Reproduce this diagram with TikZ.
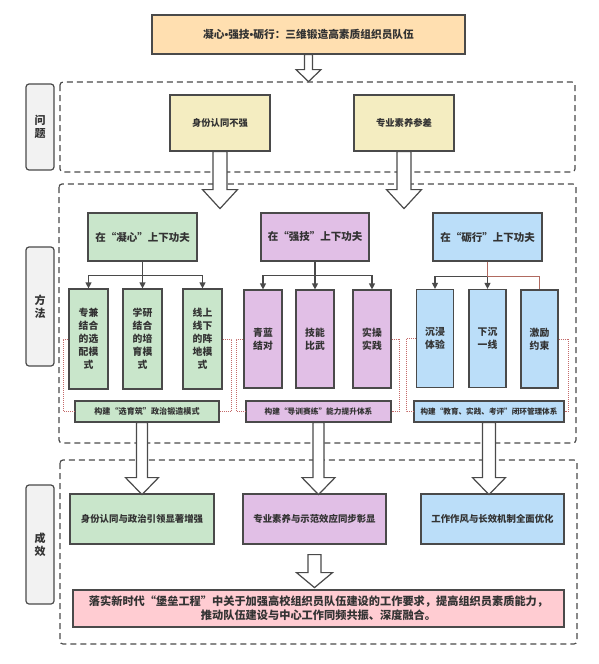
\documentclass[tikz,border=0pt]{standalone}
\usepackage{fontspec}
\setmainfont{Noto Sans CJK SC}
\newfontfamily\latinfont{Liberation Sans}
\usetikzlibrary{arrows.meta,calc}
\definecolor{bd}{HTML}{4A4A4A}
\definecolor{txt}{HTML}{333333}
\definecolor{cTop}{HTML}{FFDFB0}
\definecolor{cProb}{HTML}{F4EDC1}
\definecolor{cG}{HTML}{C9E6CB}
\definecolor{cP}{HTML}{E1BFE6}
\definecolor{cB}{HTML}{BBDEF9}
\definecolor{cPink}{HTML}{FFCCD2}
\definecolor{cLab}{HTML}{F2F2F2}
\definecolor{dotred}{HTML}{C46A6A}
\definecolor{brownred}{HTML}{B06A60}
\newcommand{\blkarrow}[5]{%
  \draw[barrow] ($(#1)+(-#3,0)$) -- ++(0,#2-#5) -- ++(#3-#4,0) -- ++(#4,#5)
    -- ++(#4,-#5) -- ++(#3-#4,0) -- ++(0,#5-#2) -- cycle;}
\newcommand{\nbul}{{\latinfont\bfseries •}}
\begin{document}
\begin{tikzpicture}[x=1pt,y=-1pt,
  box/.style={draw=bd,line width=1.2pt,inner sep=0pt,align=center,text=txt},
  fsz/.style={font=\fontsize{#1}{13}\selectfont\bfseries},
  lab/.style={box,fill=cLab,rounded corners=3pt,minimum width=28,fsz=11},
  dashbox/.style={draw=bd,line width=1.2pt,dash pattern=on 6pt off 4pt,rounded corners=3pt},
  barrow/.style={draw=bd,fill=white,line width=1.2pt,line join=miter},
  conn/.style={draw=bd,line width=1.2pt,-{Triangle[length=6pt,width=6pt]}},
  redline/.style={draw=brownred,line width=1.2pt},
  dotline/.style={draw=dotred,line width=0.8pt,dash pattern=on 1pt off 1pt}]
\useasboundingbox (0,0) rectangle (598,664);

% dashed regions
\draw[dashbox] (60,82) rectangle (575,172);
\draw[dashbox] (59,184) rectangle (576,443);
\draw[dashbox] (60,460) rectangle (577,644);

% side labels
\node[lab,minimum height=86] (lq) at (40,127) {问\\题};
\node[lab,minimum height=119] (lm) at (40,306.5) {方\\法};
\node[lab,minimum height=119] (lr) at (40,544.5) {成\\效};

% top
\node[box,fill=cTop,minimum width=313,minimum height=39,fsz=10.7] (top) at (308.5,34.5) {凝心\nbul 强技\nbul 砺行：三维锻造高素质组织员队伍};

% problems
\node[box,fill=cProb,minimum width=100,minimum height=56,fsz=9.3] (p1) at (220,123) {身份认同不强};
\node[box,fill=cProb,minimum width=100,minimum height=56,fsz=9.3] (p2) at (404,123) {专业素养参差};

% headers
\node[box,fill=cG,minimum width=109,minimum height=48,fsz=10.5] (gh) at (142.5,237) {在“凝心”上下功夫};
\node[box,fill=cP,minimum width=108,minimum height=48,fsz=10.5] (ph) at (315,237) {在“强技”上下功夫};
\node[box,fill=cB,minimum width=109,minimum height=48,fsz=10.5] (bh) at (487.5,237) {在“砺行”上下功夫};

% sub boxes
\node[box,fill=cG,minimum width=39,minimum height=100,fsz=9.8] (g1) at (88.5,339) {专兼\\结合\\的选\\配模\\式};
\node[box,fill=cG,minimum width=39,minimum height=100,fsz=9.8] (g2) at (142.5,339) {学研\\结合\\的培\\育模\\式};
\node[box,fill=cG,minimum width=39,minimum height=100,fsz=9.8] (g3) at (202.5,339) {线上\\线下\\的阵\\地模\\式};
\node[box,fill=cP,minimum width=38,minimum height=98,fsz=9.8] (s1) at (263,339) {青蓝\\结对};
\node[box,fill=cP,minimum width=38,minimum height=98,fsz=9.8] (s2) at (315,339) {技能\\比武};
\node[box,fill=cP,minimum width=38,minimum height=98,fsz=9.8] (s3) at (372,339) {实操\\实践};
\node[box,fill=cB,minimum width=37,minimum height=98,fsz=9.8] (b1) at (435,338.5) {沉浸\\体验};
\node[box,fill=cB,minimum width=37,minimum height=98,fsz=9.8] (b2) at (487.5,338.5) {下沉\\一线};
\node[box,fill=cB,minimum width=37,minimum height=98,fsz=9.8] (b3) at (539.5,339) {激励\\约束};

% bars
\node[box,fill=cG,minimum width=144,minimum height=21,fsz=8.1] (gbar) at (147,411.5) {构建“选育筑”政治锻造模式};
\node[box,fill=cP,minimum width=145,minimum height=21,fsz=7.7] (pbar) at (318.5,411.5) {构建“导训赛练”能力提升体系};
\node[box,fill=cB,minimum width=150,minimum height=21,fsz=7.6] (bbar) at (489,411.5) {构建“教育、实践、考评”闭环管理体系};

% outcomes
\node[box,fill=cG,minimum width=144,minimum height=50,fsz=9.4] (o1) at (142,519) {身份认同与政治引领显著增强};
\node[box,fill=cP,minimum width=143,minimum height=50,fsz=9.4] (o2) at (314.5,519) {专业素养与示范效应同步彰显};
\node[box,fill=cB,minimum width=143,minimum height=50,fsz=9.4] (o3) at (492.5,519) {工作作风与长效机制全面优化};

% final
\node[box,fill=cPink,minimum width=491,minimum height=37,font=\fontsize{11.2}{14}\selectfont\bfseries] (fin) at (318.5,608.5) {落实新时代“堡垒工程”中关于加强高校组织员队伍建设的工作要求，提高组织员素质能力，\\推动队伍建设与中心工作同频共振、深度融合。};

% block arrows
\blkarrow{top.south}{27}{4}{12.5}{12}
\blkarrow{p1.south}{57}{7}{17.5}{19}
\blkarrow{p2.south}{57}{7}{17.5}{19}
\blkarrow{o1.north |- gbar.south}{72}{5.5}{16.5}{17}
\blkarrow{pbar.south}{72}{5.5}{16.5}{17}
\blkarrow{bbar.south}{72}{6.5}{16.5}{17}
\blkarrow{$(o2.south)+(0,10)$}{33}{6.5}{18}{15}

% branch connectors
\draw[conn] (gh.south) -- (g2.north);
\draw[conn] (gh.south) -- ++(0,14) -| (g1.north);
\draw[conn] (gh.south) -- ++(0,14) -| (g3.north);
\draw[conn] (ph.south) -- (s2.north);
\draw[conn] (ph.south) -- ++(0,14) -| (s1.north);
\draw[conn] (ph.south) -- ++(0,14) -| (s3.north);
\draw[conn] (bh.south) -- (b2.north);
\draw[conn] (bh.south) -- ++(0,15) -| (b1.north);
\draw[redline] (bh.south) -- ++(0,15) -| (b3.north);

% dotted links
\draw[dotline] (g1.west) -- ++(-5,0) |- (gbar.west);
\draw[dotline] (g3.east) -- ++(9,0) |- (gbar.east);
\draw[dotline] (s1.west) -- ++(-7,0) |- (pbar.west);
\draw[dotline] (s3.east) -- ++(8,0) |- (pbar.east);
\draw[dotline] (b1.west) -- ++(-10,0) |- (bbar.west);
\draw[dotline] (b3.east) -- ++(10,0) |- (bbar.east);
\end{tikzpicture}
\end{document}
